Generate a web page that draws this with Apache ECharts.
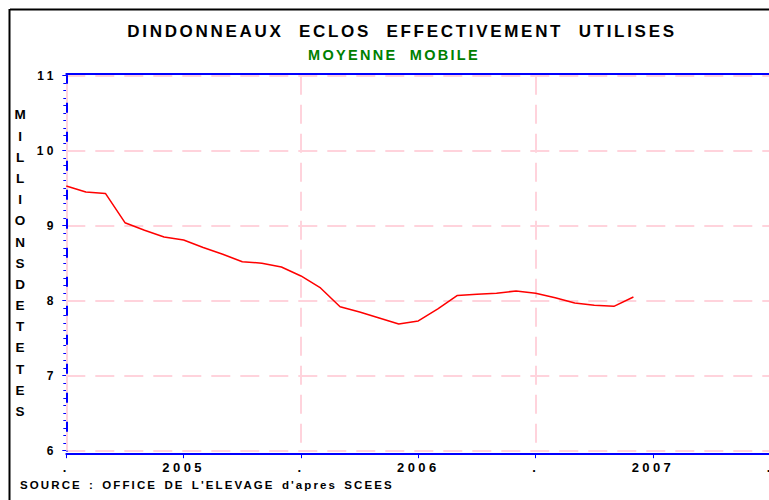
<!DOCTYPE html>
<html>
<head>
<meta charset="utf-8">
<script src="https://cdn.jsdelivr.net/npm/echarts@6/dist/echarts.min.js"></script>
<style>
  html, body { margin: 0; padding: 0; background: #fff; }
  #main { width: 769px; height: 500px; }
  /* lettres espacees comme sur le graphique SAS */
  #main text[style*="17px"] { letter-spacing: 2.7px; word-spacing: 8px; }
  #main text[style*="14.5px"] { letter-spacing: 2.3px; word-spacing: 6px; }
  #main text[style*="12px"] { letter-spacing: 3.4px; }
  #main text[style*="13px"] { letter-spacing: 3.4px; }
  #main text[style*="11.5px"] { letter-spacing: 2.1px; word-spacing: 2px; }
</style>
</head>
<body>
<div id="main"></div>
<script>
// textes
const titre = "DINDONNEAUX ECLOS EFFECTIVEMENT UTILISES";
const sousTitre = "MOYENNE MOBILE";
const source = "SOURCE : OFFICE DE L'ELEVAGE d'apres SCEES";
const yTitre = "MILLIONS DE TETES";

// axe des x : mois depuis janvier 2005, un repere tous les 6 mois
const xTickLabels = [".", "2005", ".", "2006", ".", "2007", "."];
// moyenne mobile mensuelle, janv. 2005 -> juin 2007 (millions de tetes)
const valeurs = [
  9.53, 9.45, 9.43, 9.04, 8.94, 8.85, 8.81, 8.71, 8.62, 8.52,
  8.50, 8.45, 8.33, 8.17, 7.92, 7.85, 7.77, 7.69, 7.73, 7.89,
  8.07, 8.085, 8.10, 8.13, 8.10, 8.04, 7.97, 7.94, 7.925, 8.05
];

const police = "Liberation Sans, Arial, sans-serif";
const bleu = "#0000ff";
const rose = "#ffd3dc";

var chart = echarts.init(document.getElementById("main"), null, { renderer: "svg" });

var option = {
  backgroundColor: "#fff",
  animation: false,
  grid: {
    left: 66.3,
    top: 75.7,
    width: 704,
    height: 375,
    outerBoundsMode: "none",
    containLabel: false,
  },
  xAxis: [
    {
      type: "value",
      min: 0,
      max: 36,
      interval: 6,
      offset: 3.5,
      axisLine: { show: true, lineStyle: { color: bleu, width: 2 } },
      axisTick: { show: true, length: 4, lineStyle: { color: bleu, width: 1 } },
      axisLabel: {
        color: "#000",
        fontFamily: police,
        fontWeight: "bold",
        fontSize: 13,
        margin: 7,
        showMinLabel: true,
        showMaxLabel: true,
        formatter: function (v) {
          return xTickLabels[Math.round(v / 6)];
        },
      },
      splitLine: { show: false },
    },
    {
      // ligne du haut + quadrillage vertical (chaque annee)
      type: "value",
      position: "top",
      min: 0,
      max: 36,
      interval: 12,
      offset: 2,
      axisLine: { show: true, lineStyle: { color: bleu, width: 2 } },
      axisTick: { show: false },
      axisLabel: { show: false },
      splitLine: {
        show: true,
        showMinLine: true,
        showMaxLine: true,
        lineStyle: { color: rose, width: 2, type: [19, 10] },
      },
    },
  ],
  yAxis: {
    type: "value",
    min: 6,
    max: 11,
    interval: 1,
    offset: 3.5,
    name: yTitre.replace(/ /g, "").split("").join("\n"),
    nameLocation: "middle",
    nameRotate: 0,
    nameGap: 42.8,
    nameTextStyle: {
      color: "#000",
      fontFamily: police,
      fontWeight: "bold",
      fontSize: 13.5,
      lineHeight: 21.2,
      align: "center",
    },
    axisLine: { show: true, lineStyle: { color: bleu, width: 2 } },
    axisTick: { show: true, length: 4, lineStyle: { color: bleu, width: 1 } },
    minorTick: { show: true, splitNumber: 10, length: 3, lineStyle: { color: bleu, width: 1 } },
    axisLabel: {
      color: "#000",
      fontFamily: police,
      fontWeight: "bold",
      fontSize: 12,
      margin: 6,
    },
    splitLine: {
      show: true,
      showMinLine: true,
      showMaxLine: true,
      lineStyle: { color: rose, width: 2, type: [19, 10] },
    },
  },
  series: [
    {
      type: "line",
      xAxisIndex: 0,
      data: valeurs.map(function (v, i) {
        return [i, v];
      }),
      showSymbol: false,
      lineStyle: { color: "#ff0000", width: 1.5 },
      z: 5,
      // trait vertical de janvier 2005 (debut de l'axe)
      markLine: {
        silent: true,
        symbol: "none",
        label: { show: false },
        lineStyle: { color: rose, width: 2, type: [19, 10] },
        data: [{ xAxis: 0 }],
        z: 1,
      },
    },
  ],
  graphic: [
    // cadre noir
    { type: "line", shape: { x1: 10, y1: 9.5, x2: 769, y2: 9.5 }, style: { stroke: "#000", lineWidth: 2 } },
    { type: "line", shape: { x1: 9.5, y1: 9, x2: 9.5, y2: 500 }, style: { stroke: "#000", lineWidth: 2 } },
    {
      type: "text",
      x: 402,
      y: 31,
      style: {
        text: titre,
        fill: "#000",
        font: "bold 17px " + police,
        textAlign: "center",
        textVerticalAlign: "middle",
      },
    },
    {
      type: "text",
      x: 394,
      y: 54.7,
      style: {
        text: sousTitre,
        fill: "#008000",
        font: "bold 14.5px " + police,
        textAlign: "center",
        textVerticalAlign: "middle",
      },
    },
    {
      type: "text",
      x: 20,
      y: 485,
      style: {
        text: source,
        fill: "#000",
        font: "bold 11.5px " + police,
        textAlign: "left",
        textVerticalAlign: "middle",
      },
    },
  ],
};

chart.setOption(option);
</script>
</body>
</html>
